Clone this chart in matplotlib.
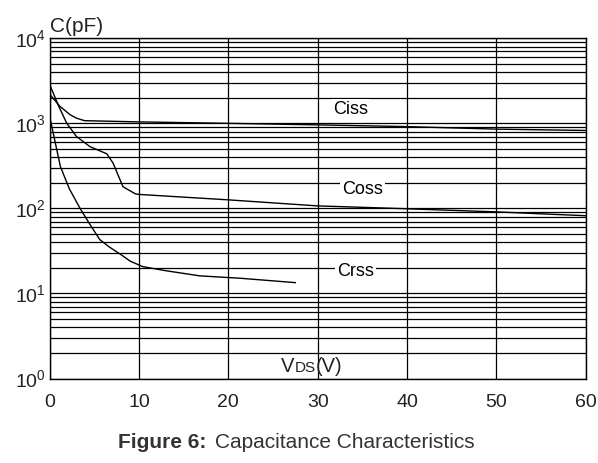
import matplotlib
matplotlib.use("Agg")
import matplotlib.pyplot as plt
from matplotlib.transforms import offset_copy

plt.rcParams['font.family'] = ['Liberation Sans', 'DejaVu Sans']
plt.rcParams['mathtext.fontset'] = 'custom'
plt.rcParams['mathtext.rm'] = 'Liberation Sans'

# Ciss, Coss, Crss vs VDS
vds_ciss = [0, 1.15, 2.3, 3.0, 3.9, 10, 20, 30, 40, 50, 60]
ciss = [2200, 1580, 1260, 1150, 1075, 1040, 1000, 960, 915, 855, 825]

vds_coss = [0, 1.0, 1.9, 3.0, 4.5, 6.4, 7.1, 8.2, 9.6, 10, 20, 30, 40, 50, 60]
coss = [2850, 1600, 1005, 700, 533, 438, 340, 180, 148, 146, 126, 107, 99, 91, 82]

vds_crss = [0, 0.6, 1.2, 2.2, 3.4, 4.5, 5.6, 6.7, 7.9, 9.0, 10.4, 13, 16.8, 21.3, 27.5]
crss = [1200, 610, 310, 170, 100, 65, 43, 35, 29, 24, 20.7, 18.5, 16.1, 15.1, 13.4]

xticks = [0, 10, 20, 30, 40, 50, 60]

fig = plt.figure(figsize=(5.98, 4.63), dpi=100)
ax = fig.add_axes([0.0831, 0.1825, 0.8963, 0.7348])

ax.set_yscale('log')
ax.set_xlim(0, 60)
ax.set_ylim(1, 1e4)
ax.set_xticks(xticks)
ax.set_xticklabels([str(t) for t in xticks])

ax.grid(True, which='major', axis='both', color='black', lw=0.9)
ax.grid(True, which='minor', axis='y', color='black', lw=0.9)
ax.set_axisbelow(True)
ax.tick_params(which='both', length=0)
ax.tick_params(axis='x', labelsize=14, pad=11, colors='#222222')
ax.tick_params(axis='y', labelsize=14, pad=3, colors='#222222')
for s in ax.spines.values():
    s.set_color('black')
    s.set_linewidth(1.0)

ax.plot(vds_ciss, ciss, color='black', lw=1.0)
ax.plot(vds_coss, coss, color='black', lw=1.0)
ax.plot(vds_crss, crss, color='black', lw=1.0)

# curve names, white box cuts the grid
box = dict(facecolor='white', edgecolor='none', pad=1.5)
ax.text(31.7, 1440, 'Ciss', fontsize=13, va='center', ha='left', bbox=box)
ax.text(32.7, 165, 'Coss', fontsize=13, va='center', ha='left', bbox=box)
ax.text(32.2, 18.0, 'Crss', fontsize=13, va='center', ha='left', bbox=box)

# axis names
ax.annotate('C(pF)', xy=(0, 1), xycoords='axes fraction', xytext=(0, 2),
            textcoords='offset points', fontsize=15, ha='left', va='bottom',
            color='#222222')
ax.text(25.9, 1.18, 'V', fontsize=14.5, ha='left', va='baseline', color='#222222')
tr = offset_copy(ax.transData, fig=fig, x=9.7, y=0, units='points')
ax.text(25.9, 1.18, 'DS', fontsize=11, ha='left', va='baseline',
        color='#222222', transform=tr)
tr2 = offset_copy(ax.transData, fig=fig, x=25.0, y=0, units='points')
ax.text(25.9, 1.18, '(V)', fontsize=14.5, ha='left', va='baseline',
        color='#222222', transform=tr2)

# caption
fig.text(118 / 598, 0.0324, 'Figure 6:', fontsize=15, fontweight='bold',
         ha='left', va='baseline', color='#333333')
fig.text(215 / 598, 0.0324, 'Capacitance Characteristics', fontsize=15,
         ha='left', va='baseline', color='#333333')

fig.savefig('out.png', dpi=100)
